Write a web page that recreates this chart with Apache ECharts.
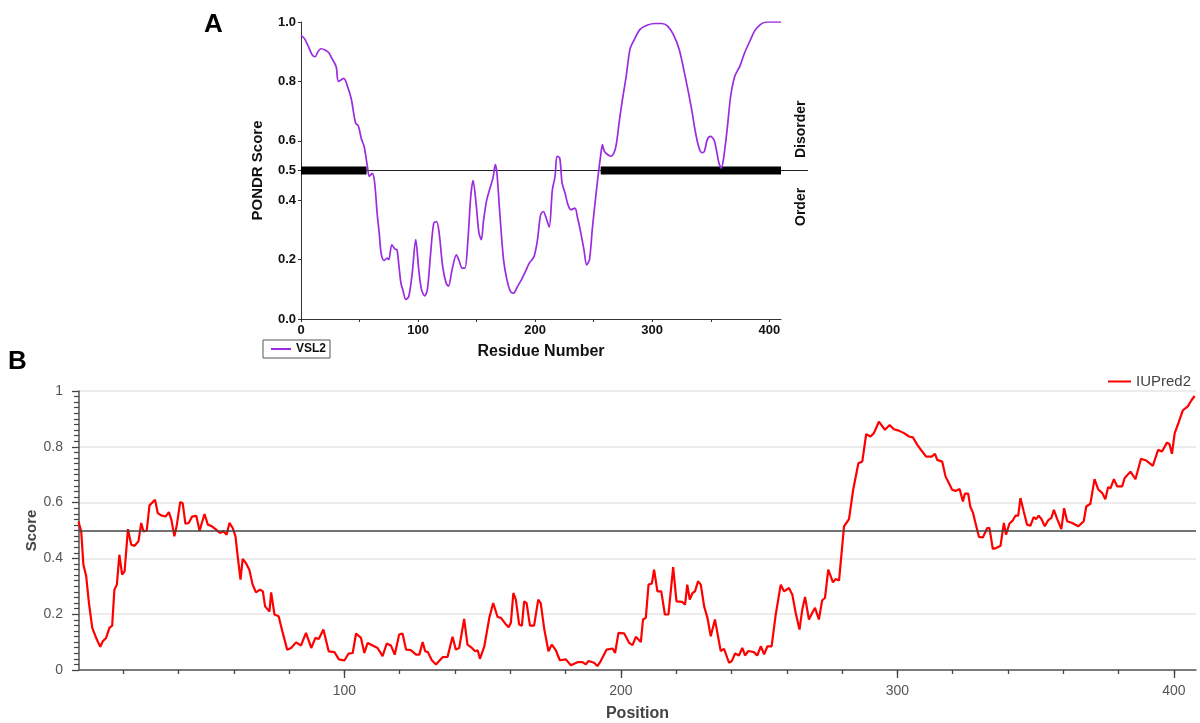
<!DOCTYPE html>
<html>
<head>
<meta charset="utf-8">
<script src="https://cdn.jsdelivr.net/npm/echarts@6/dist/echarts.min.js"></script>
<style>
  html, body { margin: 0; padding: 0; background: #fff; }
  #chart { width: 1200px; height: 723px; }
</style>
</head>
<body>
<div id="chart"></div>
<script>
// panel A - PONDR VSL2
const vslResidue = [0, 3, 6, 9.5, 12, 14.5, 17, 21, 23.6, 26, 30, 32, 36.5, 40, 43, 46.6, 49, 51.6, 54, 56.7,
  58.4, 60.8, 62.8, 65, 66.8, 68.5, 71, 73.6, 75, 77.6, 80.3, 82, 83.7, 85.4, 87, 89.5, 92, 95, 98, 100.6,
  103, 105.7, 108, 110.7, 113.4, 115.8, 118, 121, 124, 126, 129, 132.7, 135, 137.7, 140, 142.4, 145, 147, 149.5, 152,
  154, 156, 158.6, 161, 164, 166, 167.4, 169.8, 173, 176, 179, 181.6, 185, 188, 191.7, 195, 199, 202, 204.6, 207,
  209, 212, 214.7, 217, 218.7, 221, 223, 225.5, 228, 230.5, 234, 236, 239, 241.7, 244, 246.4, 249, 251.8, 254, 255.9,
  257.5, 259, 262, 265, 268.7, 272, 275, 277.8, 281, 284.6, 289.6, 296, 303, 308, 313, 318, 323, 328.5, 333.5, 337,
  340, 342.6, 344.6, 347, 349.7, 352.7, 354.8, 357, 359, 361, 364, 367, 370.6, 374.7, 379, 383.5, 387.5, 392.6, 397.6, 410];
const vslScore = [0.955, 0.944, 0.92, 0.89, 0.883, 0.90, 0.91, 0.905, 0.897, 0.88, 0.85, 0.80, 0.81, 0.78, 0.74, 0.66, 0.65, 0.606, 0.58, 0.514,
  0.48, 0.49, 0.463, 0.357, 0.29, 0.22, 0.197, 0.205, 0.20, 0.25, 0.235, 0.233, 0.177, 0.12, 0.098, 0.066, 0.075, 0.154, 0.267, 0.165,
  0.098, 0.078, 0.10, 0.22, 0.323, 0.328, 0.29, 0.177, 0.12, 0.111, 0.165, 0.216, 0.197, 0.171, 0.171, 0.255, 0.413, 0.466, 0.39, 0.29,
  0.267, 0.334, 0.40, 0.435, 0.475, 0.52, 0.49, 0.357, 0.20, 0.13, 0.092, 0.087, 0.11, 0.13, 0.16, 0.188, 0.21, 0.267, 0.35, 0.362,
  0.345, 0.31, 0.435, 0.48, 0.548, 0.542, 0.458, 0.424, 0.385, 0.368, 0.373, 0.345, 0.29, 0.233, 0.182, 0.20, 0.31, 0.413, 0.49, 0.548,
  0.587, 0.565, 0.553, 0.548, 0.576, 0.67, 0.75, 0.818, 0.908, 0.94, 0.975, 0.99, 0.995, 0.995, 0.987, 0.958, 0.908, 0.81, 0.71, 0.627,
  0.576, 0.56, 0.565, 0.604, 0.615, 0.604, 0.57, 0.525, 0.508, 0.542, 0.638, 0.75, 0.818, 0.85, 0.897, 0.936, 0.97, 0.992, 1.0, 1.0];
const disorderRegions = [[0, 56], [256, 410]];
const threshold = 0.5;
const vslYLabels = [0, 0.2, 0.4, 0.5, 0.6, 0.8, 1.0];
const vslXLabels = [0, 100, 200, 300, 400];
const vslXTicks = [0, 50, 100, 150, 200, 250, 300, 350, 400];

// panel B - IUPred2
const iupPosition = [3.8, 4.8, 5.6, 6.6, 7.6, 8.8, 10.2, 11.7, 12.6, 13.8, 15, 16, 16.8, 17.7, 18.6, 19.6, 20.5, 21.7, 22.9, 24.1,
  25.5, 26.5, 27.3, 28.5, 29.5, 31.5, 32.5, 33.7, 35.3, 36.5, 37.4, 38.5, 39.4, 40.6, 41.5, 42.5, 43.7, 44.9, 46.4, 47.6,
  49.4, 50.6, 52.1, 53.6, 55, 56.2, 57.4, 58.4, 59.6, 60.6, 61.4, 62.4, 63.2, 64.4, 65.6, 66.8, 68, 69.5, 70.5, 71.3,
  72.9, 73.5, 74.7, 76.2, 77.7, 79.3, 80.7, 82.5, 84.3, 86.1, 88, 89.5, 90.7, 92.4, 94.3, 96.4, 98, 100, 101.5, 103,
  104.2, 106, 107.2, 108.4, 110.2, 112, 113.8, 115.3, 116.8, 118.2, 119.8, 121, 122.3, 124, 125.9, 127.1, 128.3, 129.2, 130.2, 131.6,
  133.1, 135.5, 137.3, 139.1, 140.3, 141.5, 143.3, 144.5, 146.1, 147.3, 148.2, 149, 150.6, 152.4, 153.8, 155.4, 156.6, 158.2, 159.4, 160.2,
  161.1, 162, 163.2, 164.2, 165, 165.9, 167.1, 168.6, 170.1, 171, 172.3, 173.8, 175, 176.5, 177.9, 180.1, 181.9, 184.3, 186.1, 187.3,
  188.3, 190.3, 191.5, 192.7, 194.8, 197, 197.9, 199.1, 201.2, 203, 204.2, 205.4, 207.2, 208, 209, 210, 211.2, 212, 213.2, 214.6,
  215.9, 217.2, 218.9, 220.1, 222.2, 223.2, 224, 224.9, 225.9, 226.8, 227.9, 228.9, 230.1, 231.3, 232.5, 233.1, 234, 234.9, 236.1, 237.3,
  239.1, 240.1, 241.3, 242.7, 243.9, 244.9, 246.1, 248.1, 249.3, 250.6, 251.8, 253, 254.5, 256, 257.8, 259, 260.8, 262, 263.2, 264.6,
  265.6, 266.6, 268, 269.2, 270.2, 271.6, 272.8, 273.8, 275, 276.7, 277.7, 278.9, 280.7, 282.5, 284, 285.9, 287.3, 288.7, 290.3, 291.5,
  293.3, 295.5, 297.2, 298.7, 300.5, 302.4, 304.2, 305.6, 307.2, 309, 310.4, 312.4, 313.6, 314.4, 316.2, 317.4, 318.6, 319.8, 321, 322.5,
  323.7, 324.4, 325.6, 326.4, 327.3, 328.3, 329.5, 330.9, 332.5, 333.3, 334.5, 335.7, 337.3, 338.5, 339.3, 340.5, 341.7, 342.7, 343.7, 344.5,
  345.7, 346.9, 348.1, 349.3, 350.2, 351.1, 352.1, 353.3, 354.5, 355.7, 356.6, 357.8, 359.3, 360.3, 361.4, 363.2, 365.4, 367.4, 368.3, 369.8,
  371.3, 372.6, 374.1, 375.2, 376.2, 377.1, 378.3, 379.5, 381.3, 382.2, 384.3, 386.1, 388.1, 389.9, 392.4, 394.3, 395.7, 397.5, 398.4, 399.3,
  400.3, 401.7, 403.2, 405.1, 406.3, 407.5];
const iupScore = [0.532, 0.497, 0.377, 0.336, 0.24, 0.151, 0.115, 0.083, 0.103, 0.115, 0.151, 0.159, 0.288, 0.306, 0.413, 0.342, 0.354, 0.505, 0.449, 0.445,
  0.461, 0.527, 0.497, 0.50, 0.59, 0.61, 0.562, 0.554, 0.55, 0.566, 0.539, 0.479, 0.521, 0.602, 0.598, 0.524, 0.527, 0.55, 0.553, 0.499,
  0.559, 0.521, 0.515, 0.503, 0.491, 0.497, 0.485, 0.527, 0.509, 0.479, 0.407, 0.324, 0.398, 0.383, 0.359, 0.306, 0.278, 0.288, 0.282, 0.228,
  0.21, 0.278, 0.199, 0.193, 0.133, 0.073, 0.079, 0.099, 0.088, 0.133, 0.079, 0.115, 0.111, 0.145, 0.067, 0.064, 0.038, 0.034, 0.059, 0.061,
  0.131, 0.115, 0.061, 0.097, 0.088, 0.079, 0.05, 0.095, 0.088, 0.055, 0.127, 0.131, 0.073, 0.071, 0.055, 0.055, 0.10, 0.067, 0.064, 0.035,
  0.02, 0.046, 0.047, 0.119, 0.073, 0.079, 0.183, 0.091, 0.079, 0.067, 0.071, 0.04, 0.085, 0.187, 0.24, 0.19, 0.187, 0.166, 0.153, 0.169,
  0.276, 0.252, 0.163, 0.159, 0.246, 0.24, 0.159, 0.159, 0.252, 0.24, 0.145, 0.067, 0.091, 0.07, 0.035, 0.038, 0.017, 0.028, 0.028, 0.02,
  0.032, 0.026, 0.014, 0.032, 0.073, 0.077, 0.061, 0.133, 0.131, 0.097, 0.089, 0.119, 0.10, 0.181, 0.187, 0.306, 0.31, 0.36, 0.282, 0.282,
  0.199, 0.199, 0.369, 0.246, 0.244, 0.234, 0.306, 0.252, 0.276, 0.282, 0.318, 0.306, 0.228, 0.187, 0.121, 0.119, 0.181, 0.133, 0.068, 0.076,
  0.026, 0.032, 0.059, 0.052, 0.079, 0.052, 0.068, 0.064, 0.052, 0.085, 0.056, 0.085, 0.085, 0.199, 0.306, 0.282, 0.294, 0.27, 0.205, 0.145,
  0.217, 0.262, 0.181, 0.205, 0.223, 0.181, 0.25, 0.258, 0.36, 0.314, 0.326, 0.321, 0.515, 0.541, 0.646, 0.741, 0.747, 0.845, 0.837, 0.849,
  0.89, 0.861, 0.878, 0.863, 0.858, 0.849, 0.837, 0.834, 0.807, 0.783, 0.765, 0.765, 0.775, 0.753, 0.747, 0.694, 0.67, 0.646, 0.642, 0.649,
  0.604, 0.632, 0.632, 0.584, 0.565, 0.524, 0.477, 0.475, 0.509, 0.509, 0.434, 0.437, 0.445, 0.527, 0.485, 0.524, 0.536, 0.553, 0.553, 0.616,
  0.568, 0.521, 0.517, 0.548, 0.541, 0.553, 0.541, 0.515, 0.536, 0.545, 0.574, 0.541, 0.505, 0.58, 0.533, 0.527, 0.515, 0.533, 0.586, 0.596,
  0.684, 0.648, 0.634, 0.612, 0.655, 0.652, 0.684, 0.658, 0.658, 0.688, 0.711, 0.684, 0.757, 0.751, 0.732, 0.789, 0.783, 0.815, 0.81, 0.775,
  0.849, 0.887, 0.93, 0.946, 0.966, 0.982];
const iupXLabels = [100, 200, 300, 400];
const iupXTicks = [20, 40, 60, 80, 100, 120, 140, 160, 180, 200, 220, 240, 260, 280, 300, 320, 340, 360, 380, 400];

const font = 'Liberation Sans';
const zip = (xs, ys) => xs.map((x, i) => [x, ys[i]]);

const barData = [];
for (let r of disorderRegions) {
  barData.push([r[0], threshold], [r[1], threshold], '-');
}

const chart = echarts.init(document.getElementById('chart'), null, {renderer: 'canvas'});

chart.setOption({
  animation: false,
  textStyle: {fontFamily: font},
  grid: [
    {left: 301, top: 22, width: 480, height: 297},
    {left: 79, top: 391, right: 4, height: 279.5},
    {left: 301, top: 22, width: 507, height: 297}
  ],
  legend: [
    {
      data: ['VSL2'], left: 263, top: 340,
      icon: 'rect', itemWidth: 20, itemHeight: 2, itemGap: 4,
      borderColor: '#555', borderWidth: 1, padding: [3, 4, 3, 8],
      textStyle: {fontFamily: font, fontWeight: 'bold', fontSize: 12, color: '#111'}
    },
    {
      data: ['IUPred2'], right: 4, top: 369,
      icon: 'rect', itemWidth: 23, itemHeight: 2,
      textStyle: {fontFamily: font, fontSize: 15, color: '#444'}
    }
  ],
  xAxis: [
    {
      gridIndex: 0, type: 'value', min: 0, max: 410, position: 'bottom',
      name: 'Residue Number', nameLocation: 'middle', nameGap: 25,
      nameTextStyle: {fontFamily: font, fontWeight: 'bold', fontSize: 16, color: '#111'},
      axisLine: {lineStyle: {color: '#333', width: 1}},
      axisTick: {customValues: vslXTicks, length: 3, lineStyle: {color: '#333'}},
      axisLabel: {customValues: vslXLabels, margin: 5, fontWeight: 'bold', fontSize: 13, color: '#111'},
      splitLine: {show: false}
    },
    {
      gridIndex: 1, type: 'value', min: 4, max: 408, position: 'bottom',
      axisLine: {lineStyle: {color: '#555', width: 1.5}},
      axisTick: {customValues: iupXTicks, length: 4, lineStyle: {color: '#444', width: 1.3}},
      axisLabel: {show: false},
      splitLine: {show: false}
    },
    {
      gridIndex: 1, type: 'value', min: 4, max: 408, position: 'bottom',
      name: 'Position', nameLocation: 'middle', nameGap: 36,
      nameTextStyle: {fontFamily: font, fontWeight: 'bold', fontSize: 16, color: '#444'},
      axisLine: {show: false},
      axisTick: {customValues: iupXLabels, length: 8, lineStyle: {color: '#444', width: 1.3}},
      axisLabel: {customValues: iupXLabels, margin: 14, fontSize: 14, color: '#555'},
      splitLine: {show: false}
    },
    {gridIndex: 2, type: 'value', min: 0, max: 1, show: false}
  ],
  yAxis: [
    {
      gridIndex: 0, type: 'value', min: 0, max: 1,
      name: 'PONDR Score', nameLocation: 'middle', nameGap: 36,
      nameTextStyle: {fontFamily: font, fontWeight: 'bold', fontSize: 15, color: '#111'},
      axisLine: {lineStyle: {color: '#333', width: 1}},
      axisTick: {customValues: vslYLabels, length: 3, lineStyle: {color: '#333'}},
      axisLabel: {customValues: vslYLabels, margin: 5, fontWeight: 'bold', fontSize: 13, color: '#111',
        formatter: v => v.toFixed(1)},
      splitLine: {show: false}
    },
    {
      gridIndex: 1, type: 'value', min: 0, max: 1, interval: 0.2,
      name: 'Score', nameLocation: 'middle', nameGap: 40, nameMoveOverlap: false,
      nameTextStyle: {fontFamily: font, fontWeight: 'bold', fontSize: 15, color: '#444'},
      axisLine: {show: true, lineStyle: {color: '#555', width: 1.5}},
      axisTick: {show: true, length: 7, lineStyle: {color: '#444', width: 1.3}},
      minorTick: {show: true, splitNumber: 10, length: 5, lineStyle: {color: '#444', width: 1.2}},
      axisLabel: {margin: 16, fontSize: 14, color: '#555'},
      splitLine: {show: true, lineStyle: {color: '#e6e6e6', width: 1.5}}
    },
    {gridIndex: 2, type: 'value', min: 0, max: 1, show: false}
  ],
  series: [
    {
      name: 'threshold A', type: 'line', xAxisIndex: 3, yAxisIndex: 2,
      data: [[0, threshold], [1, threshold]], symbol: 'none', silent: true,
      lineStyle: {color: '#222', width: 1}
    },
    {
      name: 'disorder', type: 'line', xAxisIndex: 0, yAxisIndex: 0,
      data: barData, symbol: 'none', silent: true, connectNulls: false,
      lineStyle: {color: '#000', width: 8, cap: 'butt'}
    },
    {
      name: 'VSL2', type: 'line', xAxisIndex: 0, yAxisIndex: 0,
      data: zip(vslResidue, vslScore), symbol: 'none', smooth: 0.3,
      itemStyle: {color: '#9a2be0'},
      lineStyle: {color: '#9a2be0', width: 1.7}
    },
    {
      name: 'IUPred2', type: 'line', xAxisIndex: 1, yAxisIndex: 1,
      data: zip(iupPosition, iupScore), symbol: 'none',
      itemStyle: {color: '#ff0000'},
      lineStyle: {color: '#ff0000', width: 2.2},
      markLine: {
        silent: true, symbol: 'none', label: {show: false},
        lineStyle: {color: '#444', width: 1.5, type: 'solid'},
        data: [{yAxis: threshold}]
      }
    }
  ],
  graphic: [
    {type: 'text', left: 204, top: 12, style: {text: 'A', font: 'bold 26px "Liberation Sans"', fill: '#000'}},
    {type: 'text', left: 8, top: 349, style: {text: 'B', font: 'bold 26px "Liberation Sans"', fill: '#000'}},
    {type: 'text', x: 794, y: 158, rotation: Math.PI / 2,
      style: {text: 'Disorder', font: 'bold 14px "Liberation Sans"', fill: '#111', align: 'left', verticalAlign: 'top'}},
    {type: 'text', x: 794, y: 226, rotation: Math.PI / 2,
      style: {text: 'Order', font: 'bold 14px "Liberation Sans"', fill: '#111', align: 'left', verticalAlign: 'top'}}
  ]
});
</script>
</body>
</html>
